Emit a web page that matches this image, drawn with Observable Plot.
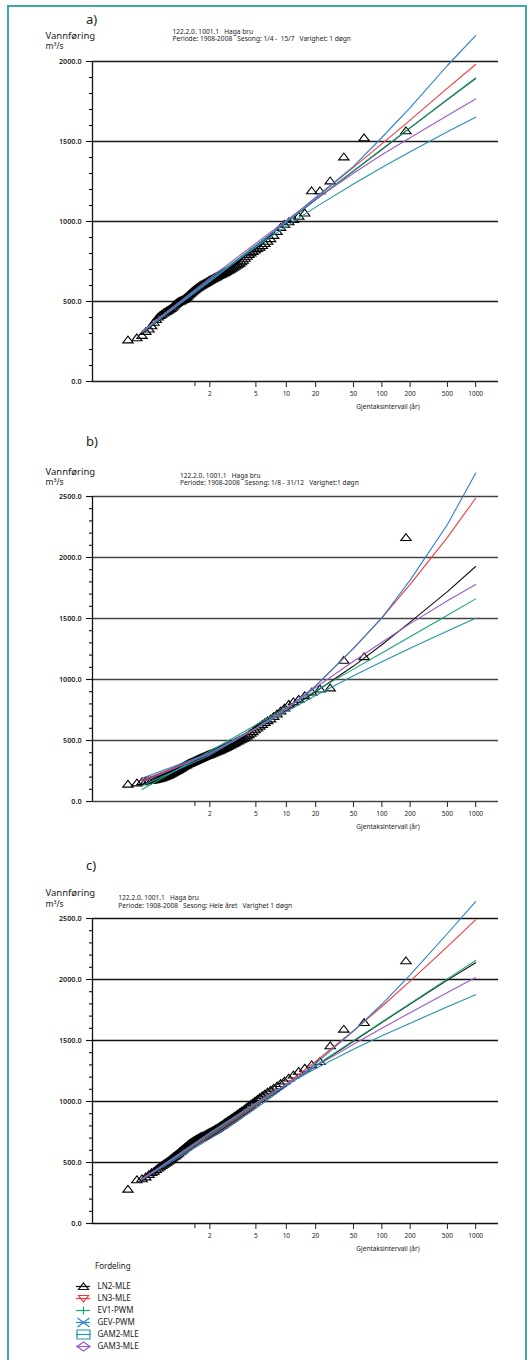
<!DOCTYPE html>
<html><head><meta charset="utf-8">
<script src="https://cdn.jsdelivr.net/npm/d3@7"></script>
<script src="https://cdn.jsdelivr.net/npm/@observablehq/plot@0.6"></script>
<style>
body{margin:0;background:#fff;font-family:"Noto Sans",sans-serif;}
#page{position:relative;width:530px;height:1360px;overflow:hidden;background:#fff;}
.frame{position:absolute;left:7px;top:5px;width:520px;height:1400px;border:2px solid #3fa9a6;box-sizing:border-box;}
.svgbox{position:absolute;left:0;}
.lbl{position:absolute;white-space:pre;color:#222;line-height:1;}
</style></head><body><div id="page"><div class="frame"></div></div>
<script>
// ---------- data ----------
const methods = ["LN2-MLE","LN3-MLE","EV1-PWM","GEV-PWM","GAM2-MLE","GAM3-MLE"];
const methodColors = ["#111111","#f23a3d","#17a673","#2a7fcf","#2394a9","#9b5cc2"];
const tickT = [2,5,10,20,50,100,200,500,1000];          // x tick labels (år)
const curveT = [1.026,2,5,10,20,50,100,200,500,1000];    // return periods of fitted curves

// panel a) Sesong 1/4 - 15/7
const obsA = [262,275,290,315,330,350,372,390,405,415,
422,430,436,442,448,453,458,466,474,482,
490,496,500,503,507,511,515,520,526,531,
537,544,551,557,563,569,574,580,585,590,
595,599,603,607,611,615,619,623,627,632,
636,640,644,648,652,656,660,664,668,672,
676,680,684,689,694,699,704,710,716,722,
728,735,742,750,760,772,785,796,806,815,
824,833,842,852,864,878,895,915,940,965,
985,1000,1015,1035,1055,1194,1194,1256,1406,1525,1569];
const fitA_LN2  = [300,628,848,995,1135,1315,1450,1585,1762,1894];
const fitA_LN3  = [308,630,852,1001,1146,1338,1485,1634,1834,1981];
const fitA_EV1  = [308,631,851,997,1136,1317,1452,1587,1765,1897];
const fitA_GEV  = [310,625,845,1000,1150,1345,1525,1712,1975,2162];
const fitA_GAM2 = [312,635,841,971,1090,1234,1337,1436,1561,1652];
const fitA_GAM3 = [315,645,865,1007,1139,1302,1417,1524,1662,1766];

// panel b) Sesong 1/8 - 31/12
const obsB = [145,155,165,170,174,178,182,186,190,194,
198,203,208,213,218,224,230,236,242,248,
254,260,266,272,278,284,290,295,300,305,
310,315,319,323,327,331,335,339,343,347,
351,355,359,363,367,371,375,379,383,387,
391,395,399,403,407,411,415,419,423,428,
433,438,443,448,454,460,466,472,478,485,
492,499,506,514,522,530,540,550,562,575,
590,605,620,635,650,665,680,700,720,745,
770,800,820,840,870,900,925,934,1160,1190,2166];
const fitB_LN2  = [170,395,600,745,900,1110,1285,1470,1720,1926];
const fitB_LN3  = [172,395,595,755,945,1255,1505,1780,2165,2486];
const fitB_EV1  = [98,412,628,771,908,1085,1218,1351,1526,1661];
const fitB_GEV  = [190,398,600,762,948,1255,1505,1815,2270,2691];
const fitB_GAM2 = [130,380,598,738,868,1030,1145,1256,1398,1502];
const fitB_GAM3 = [160,392,600,762,935,1150,1305,1458,1646,1779];

// panel c) Hele året
const obsC = [284,361,369,385,405,420,432,445,457,468,
478,488,497,505,514,523,531,540,549,557,
565,573,581,590,598,606,614,622,630,637,
645,652,659,665,671,677,683,688,693,698,
703,708,713,717,721,725,730,735,740,745,
750,755,760,765,771,777,783,790,797,804,
811,818,826,834,842,850,858,866,875,884,
893,902,912,922,932,943,955,967,980,993,
1006,1020,1035,1050,1065,1080,1095,1112,1130,1150,
1170,1195,1220,1250,1275,1305,1330,1460,1596,1650,2156];
const fitC_LN2  = [350,715,965,1130,1288,1494,1648,1798,1995,2137];
const fitC_LN3  = [370,712,964,1144,1328,1580,1779,1986,2269,2489];
const fitC_EV1  = [362,726,974,1138,1295,1499,1652,1804,2005,2156];
const fitC_GEV  = [362,695,944,1124,1311,1577,1797,2037,2377,2639];
const fitC_GAM2 = [361,744,988,1137,1270,1428,1538,1642,1776,1875];
const fitC_GAM3 = [363,738,985,1142,1288,1470,1601,1728,1893,2016];

// ---------- helpers ----------
const gumbel = T => -Math.log(-Math.log(1 - 1/T));
const invGumbel = g => 1/(1 - Math.exp(-Math.exp(-g)));
const plotPos = (i, n) => -Math.log(-Math.log((i - 0.44)/(n + 0.12)));  // Gringorten
const xDomain = [-2.52, 7.47];

const triUp = {draw(c){c.moveTo(0,-3.5);c.lineTo(5.2,3.3);c.lineTo(-5.2,3.3);c.closePath();}};
const page = document.getElementById("page");

function label(text, left, baseline, size, extra){
  const d = document.createElement("div");
  d.className = "lbl";
  d.textContent = text;
  d.style.left = left + "px";
  d.style.top = (baseline - 0.888*size) + "px";
  d.style.fontSize = size + "px";
  if (extra) Object.assign(d.style, extra);
  page.appendChild(d);
  return d;
}

function drawPanel(cfg){
  const n = cfg.obs.length;
  const pts = cfg.obs.map((v,k) => ({g: plotPos(k+1, n), v}));
  const curves = methods.flatMap((m,j) => curveT.map((T,k) => ({m, g: gumbel(T), v: cfg.fits[j][k]})));
  const majors = d3.range(0, cfg.yMax + 1, 500);
  const minors = d3.range(0, cfg.yMax + 1, 100).filter(v => v % 500);
  const H = 420;
  const svg = Plot.plot({
    width: 530, height: H,
    marginTop: cfg.mt, marginBottom: H - cfg.mt - cfg.ph, marginLeft: 92, marginRight: 32,
    x: {domain: xDomain, label: null},
    y: {domain: [0, cfg.yMax], label: null},
    color: {domain: methods, range: methodColors},
    style: {fontFamily: "Noto Sans", background: "transparent", color: "#222", overflow: "visible"},
    marks: [
      Plot.ruleY(majors, {stroke: cfg.grid, strokeWidth: 1.3}),
      Plot.ruleX([xDomain[0]], {stroke: "#111", strokeWidth: 1.3}),
      Plot.axisY({ticks: majors, label: null, tickSize: 6, tickPadding: 5, tickFormat: d => d.toFixed(1), fontSize: 7.2, fontWeight: 600, stroke: "#111", strokeWidth: 1.1}),
      Plot.axisY({ticks: minors, label: null, tickSize: 3, tickFormat: () => "", stroke: "#111", strokeWidth: 1.1}),
      Plot.axisX({ticks: tickT.map(gumbel), label: null, tickSize: 6, tickPadding: 4, tickFormat: d => String(Math.round(invGumbel(d))), fontSize: 6.5, stroke: "#333", strokeWidth: 1.1}),
      Plot.axisX({ticks: [0], label: null, tickSize: 5, tickFormat: () => "", stroke: "#333", strokeWidth: 1.1}),
      Plot.dot(pts, {x: "g", y: "v", symbol: triUp, stroke: "#000", fill: "none", strokeWidth: 1.1}),
      Plot.line(curves, {x: "g", y: "v", z: "m", stroke: "m", strokeWidth: 1.1})
    ]
  });
  const box = document.createElement("div");
  box.className = "svgbox";
  box.style.top = cfg.top + "px";
  box.appendChild(svg);
  page.appendChild(box);
  // texts
  const t = cfg.top;
  label(cfg.letter, 86, cfg.letterBase, 13);
  label("Vannføring", 45.5, cfg.vfBase, 9.5);
  label("m³/s", 45.5, cfg.vfBase + 10.5, 8.5);
  label("122.2.0. 1001.1   Haga bru", cfg.subX, cfg.subBase, 6.6);
  label(cfg.sub2, cfg.subX, cfg.subBase + 7.2, 6.6);
  const xl = label("Gjentaksintervall (år)", 388, t + cfg.mt + cfg.ph + 29, 6.5);
  xl.style.transform = "translateX(-50%)";
}

drawPanel({top: 0, yMax: 2000, mt: 61, ph: 320, grid: "#1a1a1a",
  obs: obsA, fits: [fitA_LN2, fitA_LN3, fitA_EV1, fitA_GEV, fitA_GAM2, fitA_GAM3],
  letter: "a)", letterBase: 25, vfBase: 39, subX: 172.5, subBase: 34.7,
  sub2: "Periode: 1908-2008   Sesong: 1/4 -  15/7   Varighet: 1 døgn"});
drawPanel({top: 420, yMax: 2500, mt: 76, ph: 305, grid: "#444",
  obs: obsB, fits: [fitB_LN2, fitB_LN3, fitB_EV1, fitB_GEV, fitB_GAM2, fitB_GAM3],
  letter: "b)", letterBase: 446.7, vfBase: 475, subX: 180, subBase: 478.7,
  sub2: "Periode: 1908-2008   Sesong: 1/8 - 31/12   Varighet:1 døgn"});
drawPanel({top: 840, yMax: 2500, mt: 78, ph: 305, grid: "#111",
  obs: obsC, fits: [fitC_LN2, fitC_LN3, fitC_EV1, fitC_GEV, fitC_GAM2, fitC_GAM3],
  letter: "c)", letterBase: 871, vfBase: 896.7, subX: 118.3, subBase: 901.3,
  sub2: "Periode: 1908-2008   Sesong: Hele året   Varighet 1 døgn"});

// ---------- legend ----------
label("Fordeling", 95, 1268.7, 8);
const legSymbols = [
  {draw(c){c.moveTo(0,-3.5);c.lineTo(5,3);c.lineTo(-5,3);c.closePath();}},
  {draw(c){c.moveTo(0,3.5);c.lineTo(5,-3);c.lineTo(-5,-3);c.closePath();}},
  {draw(c){c.moveTo(0,-4);c.lineTo(0,4);}},
  {draw(c){c.moveTo(-6,-4.5);c.lineTo(6,4.5);c.moveTo(-6,4.5);c.lineTo(6,-4.5);}},
  {draw(c){c.rect(-6.5,-4.5,13,9);}},
  {draw(c){c.moveTo(0,-4.5);c.lineTo(6.5,0);c.lineTo(0,4.5);c.lineTo(-6.5,0);c.closePath();}}
];
const legendRows = methods.map((m,i) => ({m, sym: legSymbols[i]}));
const legend = Plot.plot({
  width: 200, height: 105, margin: 0,
  x: {domain: [0, 1], range: [76, 90], axis: null},
  y: {type: "point", domain: methods, range: [25, 97.5], axis: null},
  color: {domain: methods, range: methodColors},
  style: {fontFamily: "Noto Sans", background: "transparent", overflow: "visible"},
  marks: [
    Plot.ruleY(legendRows, {y: "m", x1: 0, x2: 1, stroke: "m", strokeWidth: 1.2}),
    ...legendRows.map(r => Plot.dot([r], {x: 0.5, y: "m", symbol: r.sym, stroke: "m", fill: "none", strokeWidth: 1.2})),
    Plot.text(legendRows, {x: 1, y: "m", text: "m", textAnchor: "start", dx: 7, fontSize: 8, fill: "#222"})
  ]
});
const lbox = document.createElement("div");
lbox.className = "svgbox";
lbox.style.top = "1255px";
lbox.appendChild(legend);
page.appendChild(lbox);
</script></body></html>
